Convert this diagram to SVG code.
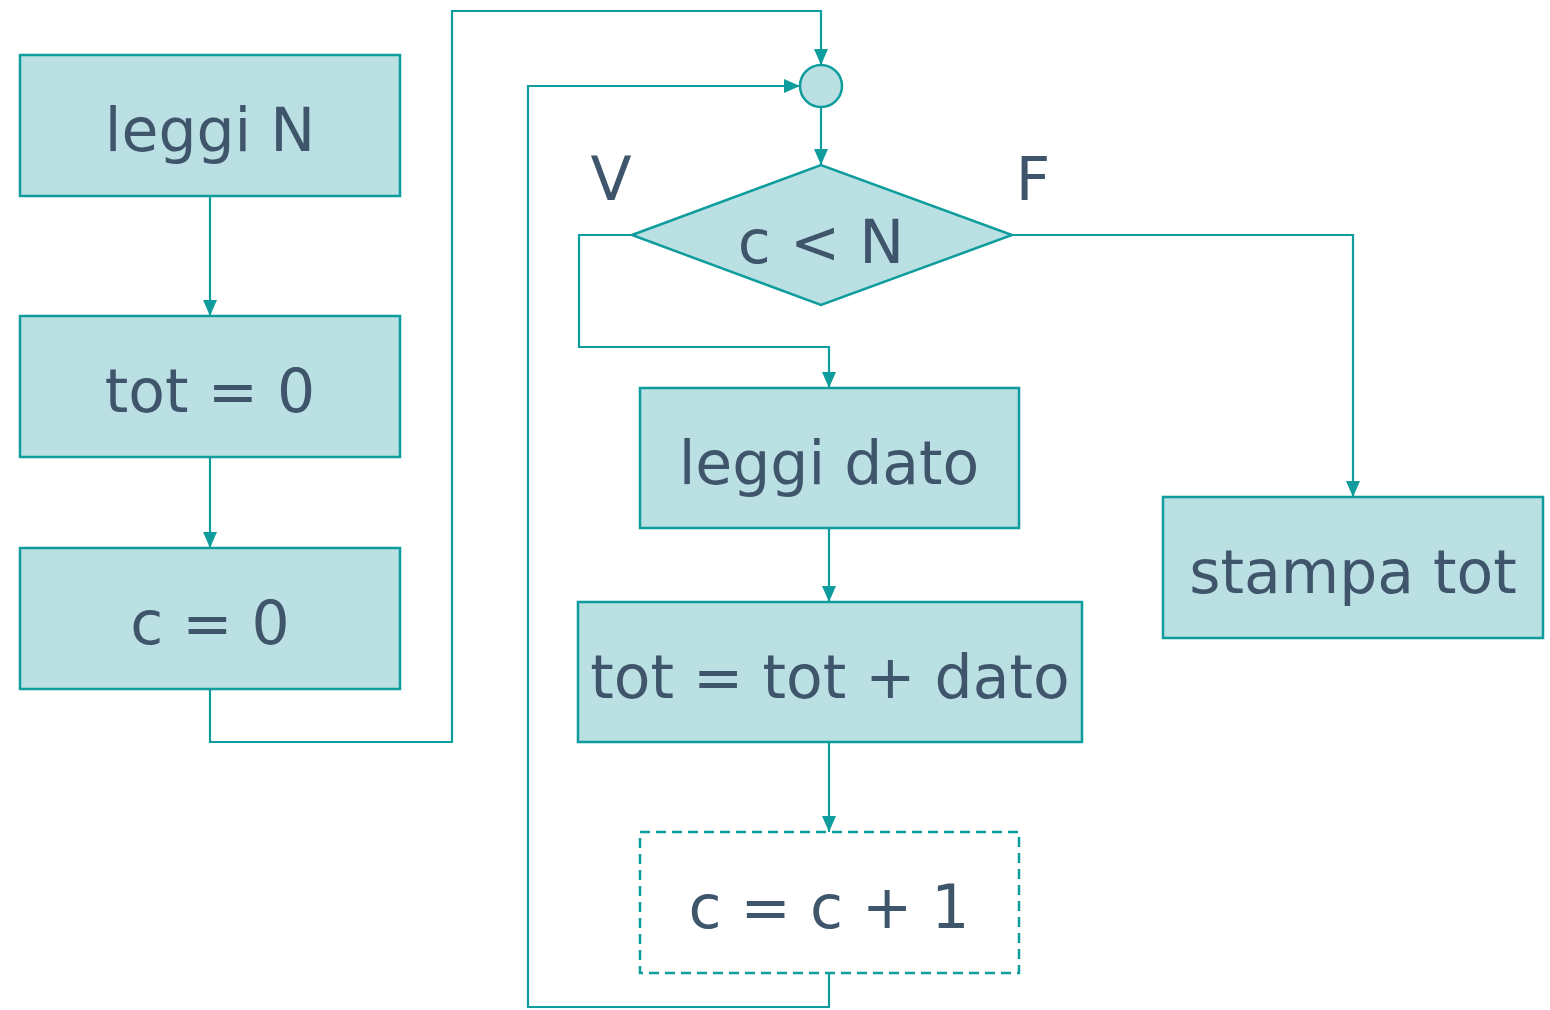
<svg xmlns="http://www.w3.org/2000/svg" width="1550" height="1010" viewBox="0 0 1550 1010">
<style>
.box{fill:#bbe0e3;stroke:#0e9c9c;stroke-width:2.5}
.dash{fill:#ffffff;stroke:#0e9c9c;stroke-width:2.5;stroke-dasharray:10 6}
.t{font-family:"DejaVu Sans",Verdana,sans-serif;font-size:60px;fill:#3f556b;text-anchor:middle}
.c{fill:none;stroke:#0e9c9c;stroke-width:2.2}
</style>
<defs>
<marker id="ah" viewBox="0 0 16 14" refX="16" refY="7" markerWidth="16" markerHeight="14" markerUnits="userSpaceOnUse" orient="auto">
<path d="M0,0 L16,7 L0,14 z" fill="#0e9c9c"/>
</marker>
</defs>
<rect width="1550" height="1010" fill="#ffffff"/>
<g id="connectors">
<path class="c" d="M210,196 V316" marker-end="url(#ah)"/>
<path class="c" d="M210,457 V548" marker-end="url(#ah)"/>
<path class="c" d="M210,689 V742 H452 V11 H821 V65" marker-end="url(#ah)"/>
<path class="c" d="M829,973 V1007 H528 V86 H800" marker-end="url(#ah)"/>
<path class="c" d="M821,107 V165" marker-end="url(#ah)"/>
<path class="c" d="M632,235 H579 V347 H829 V388" marker-end="url(#ah)"/>
<path class="c" d="M1012,235 H1353 V497" marker-end="url(#ah)"/>
<path class="c" d="M829,528 V602" marker-end="url(#ah)"/>
<path class="c" d="M829,742 V832" marker-end="url(#ah)"/>
</g>
<g id="n_leggiN"><rect class="box" x="20" y="55" width="380" height="141"/><text class="t" x="210" y="151">leggi N</text></g>
<g id="n_tot0"><rect class="box" x="20" y="316" width="380" height="141"/><text class="t" x="210" y="412">tot = 0</text></g>
<g id="n_c0"><rect class="box" x="20" y="548" width="380" height="141"/><text class="t" x="210" y="644">c = 0</text></g>
<g id="n_join"><circle class="box" cx="821" cy="86" r="21"/></g>
<g id="n_cond"><polygon class="box" points="632,235 821,165 1012,235 821,305"/><text class="t" x="821" y="263">c &lt; N</text></g>
<g id="l_V"><text class="t" x="611" y="200">V</text></g>
<g id="l_F"><text class="t" x="1033" y="200">F</text></g>
<g id="n_leggidato"><rect class="box" x="640" y="388" width="379" height="140"/><text class="t" x="829" y="484">leggi dato</text></g>
<g id="n_totdato"><rect class="box" x="578" y="602" width="504" height="140"/><text class="t" x="830" y="698">tot = tot + dato</text></g>
<g id="n_cinc"><rect class="dash" x="640" y="832" width="379" height="141"/><text class="t" x="829" y="928">c = c + 1</text></g>
<g id="n_stampa"><rect class="box" x="1163" y="497" width="380" height="141"/><text class="t" x="1353" y="593">stampa tot</text></g>
</svg>
